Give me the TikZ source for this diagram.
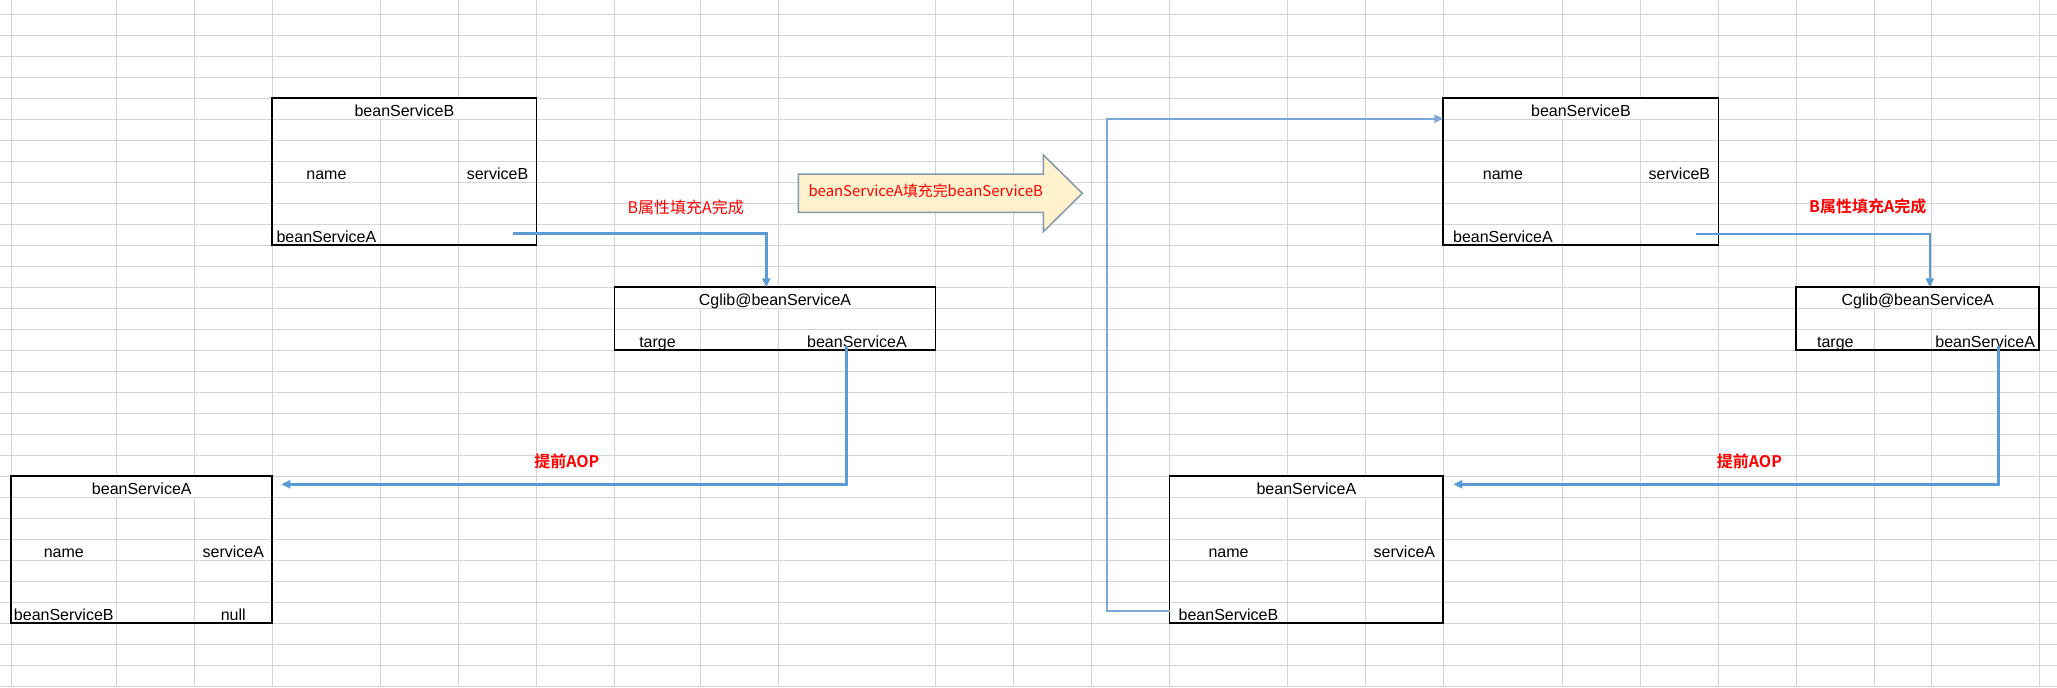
\documentclass[tikz,border=0pt]{standalone}
\usepackage{fontspec}
\setmainfont{Liberation Sans}
\newfontfamily\cjk{Noto Sans CJK SC}[BoldFont={Noto Sans CJK SC Bold}]
\usetikzlibrary{arrows.meta,calc}
\definecolor{gridc}{HTML}{D4D4D4}
\definecolor{linkc}{HTML}{5B9BD5}
\definecolor{loopc}{HTML}{7BA7DA}
\definecolor{arrfill}{HTML}{FFF2CC}
\definecolor{arrdraw}{HTML}{8497B0}
\definecolor{redc}{HTML}{FF0000}
\begin{document}
\begin{tikzpicture}[x=0.5pt,y=-0.5pt,
  gridline/.style={draw=gridc,line width=0.65pt},
  box/.style={draw=black,line width=0.9pt,anchor=north west,inner sep=0pt,outer sep=0pt},
  titlecell/.style={fill=white,draw=none},
  cell/.style={inner sep=0pt,anchor=base,font=\fontsize{8}{9.6}\selectfont},
  conn/.style={draw=linkc,line width=1.2pt,-{Triangle[length=4.5pt,width=4pt]}},
  loopconn/.style={conn,draw=loopc,line width=1pt},
  lbl/.style={inner sep=0pt,text=redc,font=\cjk\fontsize{8}{9.6}\selectfont},
  lblb/.style={inner sep=0pt,text=redc,font=\cjk\bfseries\fontsize{8}{9.6}\selectfont},
  bigarrow/.style={fill=arrfill,draw=arrdraw,line width=0.75pt}]
\useasboundingbox (0,0) rectangle (2057,687);
\fill[white] (0,0) rectangle (2057,687);
% spreadsheet grid
\foreach \x in {11.3,116.3,194.3,272.3,380.4,458.5,536.5,614.4,700.5,778.6,935.5,1013.5,1091.4,1169.5,1287.5,1365.4,1443.3,1562.5,1640.2,1718.5,1796.2,1874.4,1931.2,2039.2}
  \draw[gridline] (\x,0) -- (\x,687);
\foreach \k in {0,...,32}
  \draw[gridline] (0,{14.3+21*\k}) -- (2057,{14.3+21*\k});
% merged title cells
\fill[titlecell] (272.8,98.8) rectangle (536,118.9);
\fill[titlecell] (614.9,287.8) rectangle (935,307.9);
\fill[titlecell] (11.8,476.8) rectangle (271.8,496.9);
\fill[titlecell] (1443.8,98.8) rectangle (1718,118.9);
\fill[titlecell] (1796.7,287.8) rectangle (2038.7,307.9);
\fill[titlecell] (1170,476.8) rectangle (1442.8,496.9);
% boxes
\node[box,minimum width=132.1pt,minimum height=73.5pt] (b1) at (272.3,98.3) {};
\node[box,minimum width=160.55pt,minimum height=31.5pt] (g1) at (614.4,287.3) {};
\node[box,minimum width=130.5pt,minimum height=73.5pt] (b3) at (11.3,476.3) {};
\node[box,minimum width=137.6pt,minimum height=73.5pt] (b4) at (1443.3,98.3) {};
\node[box,minimum width=121.5pt,minimum height=31.5pt] (g2) at (1796.2,287.3) {};
\node[box,minimum width=136.9pt,minimum height=73.5pt] (b5) at (1169.5,476.3) {};
% texts left
\node[cell] (b1t) at (404.4,116.3) {beanServiceB};
\node[cell] (b1n) at (326.4,179.3) {name};
\node[cell] (b1s) at (497.5,179.3) {serviceB};
\node[cell] (b1a) at (326.4,242.3) {beanServiceA};
\node[cell] (g1t) at (775,305.3) {Cglib@beanServiceA};
\node[cell] (g1g) at (657.5,347.3) {targe};
\node[cell] (g1a) at (857,347.3) {beanServiceA};
\node[cell] (b3t) at (141.8,494.3) {beanServiceA};
\node[cell] (b3n) at (63.8,557.3) {name};
\node[cell] (b3s) at (233.3,557.3) {serviceA};
\node[cell] (b3b) at (63.8,620.3) {beanServiceB};
\node[cell] (b3u) at (233.3,620.3) {null};
% texts right
\node[cell] (b4t) at (1580.9,116.3) {beanServiceB};
\node[cell] (b4n) at (1502.9,179.3) {name};
\node[cell] (b4s) at (1679.4,179.3) {serviceB};
\node[cell] (b4a) at (1502.9,242.3) {beanServiceA};
\node[cell] (g2t) at (1917.7,305.3) {Cglib@beanServiceA};
\node[cell] (g2g) at (1835.3,347.3) {targe};
\node[cell] (g2a) at (1985.2,347.3) {beanServiceA};
\node[cell] (b5t) at (1306.4,494.3) {beanServiceA};
\node[cell] (b5n) at (1228.5,557.3) {name};
\node[cell] (b5s) at (1404.4,557.3) {serviceA};
\node[cell] (b5b) at (1228.5,620.3) {beanServiceB};
% big arrow
\filldraw[bigarrow] (798.3,174) -- (1043.3,174) -- (1043.3,155) -- (1082.3,193.3) -- (1043.3,231.7) -- (1043.3,212.3) -- (798.3,212.3) -- cycle;
\node[lbl,font=\cjk\fontsize{7.45}{9}\selectfont] (arr) at (925.7,190.7) {beanServiceA填充完beanServiceB};
% labels
\node[lbl] (l1) at (685.8,207) {B属性填充A完成};
\node[lblb] (l2) at (1867.8,206.7) {B属性填充A完成};
\node[lblb] (l3) at (566.8,461.7) {提前AOP};
\node[lblb] (l4) at (1749.4,461.7) {提前AOP};
% connectors
\coordinate (c1s) at (513.4,233.5);
\coordinate (c2s) at (846.3,346);
\coordinate (c3s) at (1696,233.7);
\coordinate (c4s) at (1998.6,346);
\draw[conn] (c1s) -| ($(g1.north west)+(151.9,0)$);
\draw[conn] (c2s) |- ($(b3.north east)+(9,8)$);
\draw[conn] (c3s) -| ($(g2.north west)+(133.6,0)$);
\draw[conn] (c4s) |- ($(b5.north east)+(10,8)$);
\draw[loopconn] ($(b5.south west)+(0,-12)$) -- ++(-62.3,0) |- ($(b4.north west)+(0,20.4)$);
\end{tikzpicture}
\end{document}
